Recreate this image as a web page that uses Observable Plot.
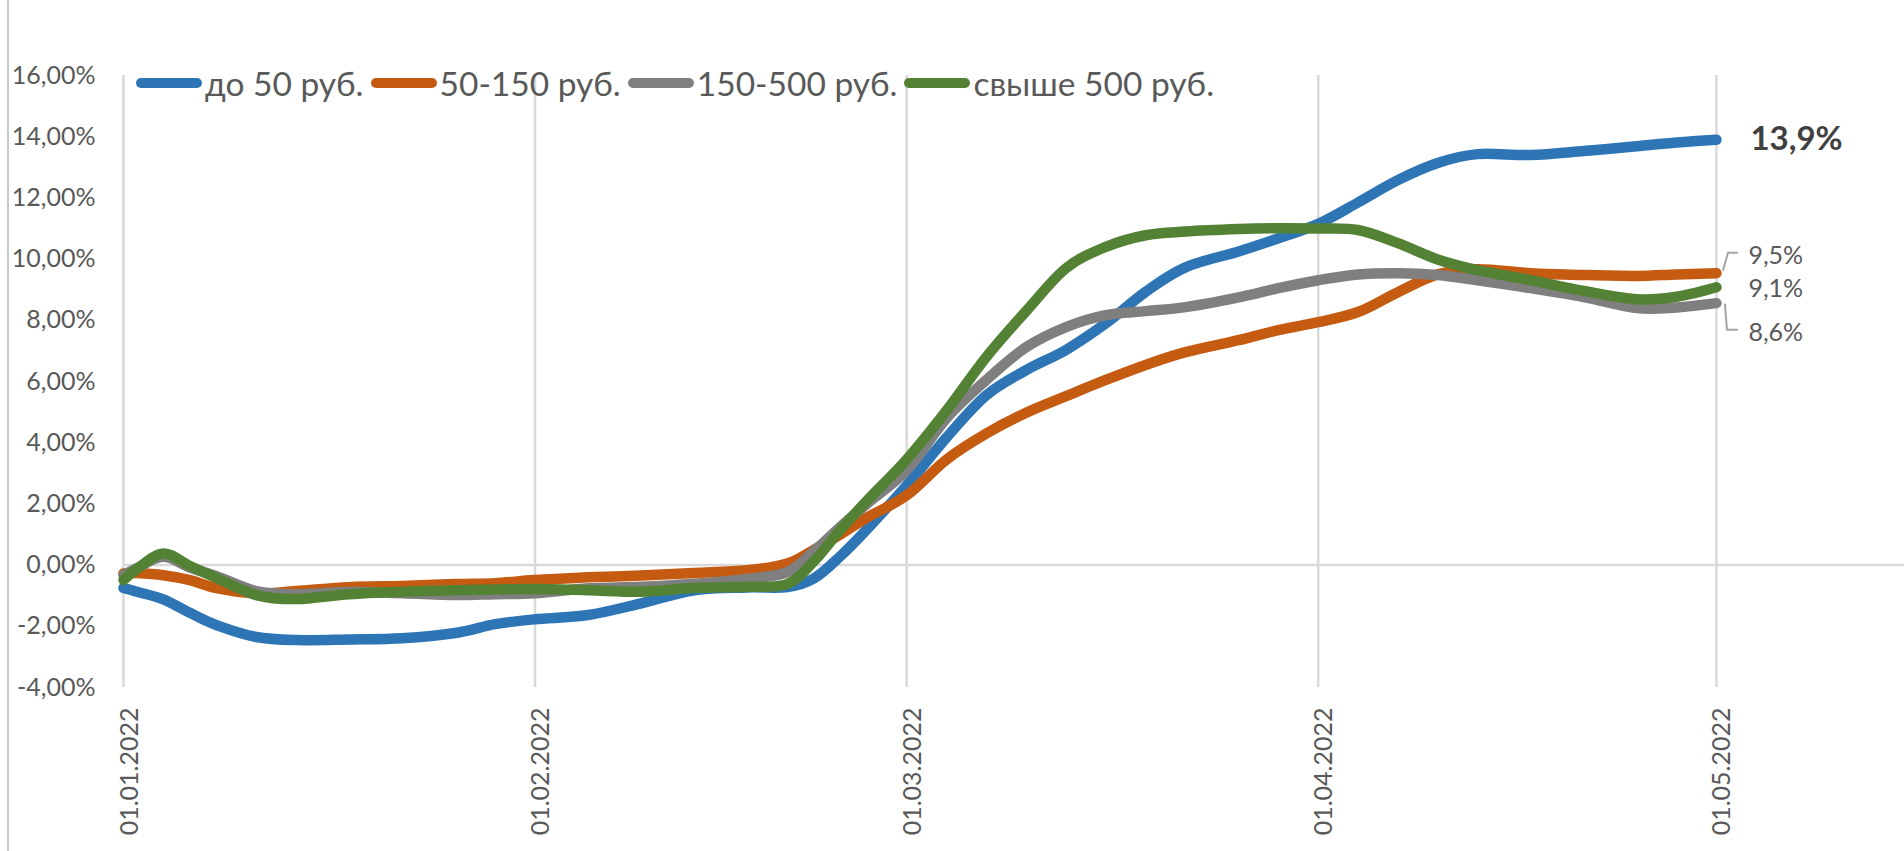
<!DOCTYPE html>
<html><head><meta charset="utf-8">
<script src="https://cdn.jsdelivr.net/npm/d3@7"></script>
<script src="https://cdn.jsdelivr.net/npm/@observablehq/plot@0.6"></script>
<style>
html,body{margin:0;padding:0;background:#fff;}
#wrap{position:relative;width:1904px;height:851px;overflow:hidden;font-family:Lato,sans-serif;}
#wrap svg{position:absolute;left:0;top:0;}
#border{position:absolute;left:7px;top:0;width:0;height:851px;border-left:2px solid #c8c8c8;z-index:2;}
#legend{position:absolute;left:136px;top:63px;height:40px;display:flex;align-items:center;font-size:33.5px;color:#595959;white-space:nowrap;z-index:3;}
.it{display:flex;align-items:center;margin-right:7px;}
.sw{display:inline-block;width:66px;height:10px;border-radius:5px;margin-right:3px;}
</style></head><body><div id="wrap"><div id="border"></div></div>
<script>
// ---- data ----
const seriesNames = ["до 50 руб.", "50-150 руб.", "150-500 руб.", "свыше 500 руб."];
const seriesColors = ["#2E75B6", "#C55A11", "#7F7F7F", "#548235"];
const dates = ["2022-01-01","2022-01-02","2022-01-04","2022-01-06","2022-01-08","2022-01-11","2022-01-14","2022-01-18","2022-01-22","2022-01-26",
  "2022-01-29","2022-02-01","2022-02-05","2022-02-09","2022-02-13","2022-02-17","2022-02-20","2022-02-22","2022-02-24","2022-02-26",
  "2022-03-01","2022-03-04","2022-03-07","2022-03-10","2022-03-13","2022-03-16","2022-03-19","2022-03-22","2022-03-26","2022-03-29",
  "2022-04-01","2022-04-04","2022-04-07","2022-04-10","2022-04-13","2022-04-17","2022-04-21","2022-04-25","2022-04-28","2022-05-01"];
const upTo50 = [-0.75,-0.87,-1.12,-1.56,-1.96,-2.35,-2.45,-2.43,-2.39,-2.22,
  -1.93,-1.77,-1.63,-1.25,-0.82,-0.73,-0.72,-0.44,0.29,1.17,
  2.6,4.17,5.55,6.37,7.03,7.9,8.93,9.73,10.25,10.68,
  11.15,11.85,12.58,13.14,13.43,13.4,13.53,13.69,13.81,13.9];
const from50to150 = [-0.27,-0.26,-0.33,-0.49,-0.75,-0.92,-0.85,-0.72,-0.68,-0.62,
  -0.59,-0.49,-0.4,-0.34,-0.26,-0.17,0.05,0.5,1.0,1.55,
  2.28,3.45,4.3,4.98,5.52,6.05,6.54,6.96,7.35,7.68,
  7.94,8.27,8.92,9.5,9.67,9.54,9.48,9.45,9.5,9.54];
const from150to500 = [-0.33,-0.1,0.27,-0.08,-0.36,-0.85,-0.95,-0.88,-0.92,-0.98,
  -0.95,-0.92,-0.76,-0.71,-0.61,-0.45,-0.23,0.45,1.25,2.0,
  3.1,4.8,6.05,7.12,7.78,8.17,8.3,8.43,8.75,9.05,
  9.31,9.5,9.54,9.48,9.31,9.05,8.76,8.4,8.42,8.56];
const over500 = [-0.49,-0.13,0.38,-0.03,-0.42,-0.98,-1.11,-0.95,-0.87,-0.82,
  -0.8,-0.78,-0.82,-0.87,-0.75,-0.71,-0.62,0.12,1.15,2.1,
  3.45,5.05,6.8,8.3,9.7,10.4,10.78,10.9,10.98,11.01,
  11.0,10.95,10.52,9.99,9.64,9.31,8.96,8.69,8.77,9.08];
const yTicks = [-4,-2,0,2,4,6,8,10,12,14,16];
const xTicks = ["2022-01-01","2022-02-01","2022-03-01","2022-04-01","2022-05-01"];
const endLabels = ["13,9%", "9,5%", "8,6%", "9,1%"];
const endLabelSeries = [0, 1, 2, 3];

// ---- build ----
const parse = d3.utcParse("%Y-%m-%d");
const seriesValues = [upTo50, from50to150, from150to500, over500];
const rows = [];
seriesNames.forEach((s, i) => dates.forEach((d, j) => rows.push({series: s, date: parse(d), value: seriesValues[i][j]})));
const lastDate = parse(dates[dates.length - 1]);

const fmtY = d => d.toFixed(2).replace(".", ",") + "%";
const fmtX = d3.utcFormat("%d.%m.%Y");

// label layout (pixel offsets from the line end)
const labelLayout = [
  {dx: 34, dy: 0, bold: true, size: 33, fill: "#404040"},
  {dx: 32, dy: -17, bold: false, size: 25, fill: "#595959"},
  {dx: 32, dy: 30, bold: false, size: 25, fill: "#595959"},
  {dx: 32, dy: 2, bold: false, size: 25, fill: "#595959"}
];
const leaderLayout = [
  {series: 1, pts: [[7,-2],[12,-20],[22,-20]]},
  {series: 2, pts: [[9,1],[11,27],[22,27]]}
];

const labelMarks = endLabels.map((t, k) => {
  const si = endLabelSeries[k];
  const L = labelLayout[k];
  return Plot.text([{date: lastDate, value: seriesValues[si][seriesValues[si].length - 1], t}], {
    x: "date", y: "value", text: "t", dx: L.dx, dy: L.dy, textAnchor: "start",
    fontSize: L.size, fontWeight: L.bold ? "bold" : "normal", fill: L.fill
  });
});

const leaderMark = (index, scales) => {
  const g = d3.create("svg:g");
  leaderLayout.forEach(l => {
    const vals = seriesValues[l.series];
    const x0 = scales.x(lastDate), y0 = scales.y(vals[vals.length - 1]);
    g.append("path")
      .attr("d", d3.line()(l.pts.map(([a, b]) => [x0 + a, y0 + b])))
      .attr("fill", "none").attr("stroke", "#a6a6a6").attr("stroke-width", 2);
  });
  return g.node();
};

const chart = Plot.plot({
  width: 1904, height: 851,
  marginTop: 75, marginBottom: 164, marginLeft: 123, marginRight: 0,
  style: {fontFamily: "Lato, sans-serif", background: "transparent"},
  x: {type: "utc", domain: [parse("2022-01-01"), new Date(Date.UTC(2022, 4, 15, 4))]},
  y: {domain: [-4, 16]},
  color: {domain: seriesNames, range: seriesColors},
  marks: [
    Plot.gridX(xTicks.map(parse), {stroke: "#d9d9d9", strokeOpacity: 1, strokeWidth: 2.5}),
    Plot.ruleY([0], {stroke: "#d9d9d9", strokeWidth: 2.5}),
    Plot.axisY(yTicks, {tickFormat: fmtY, tickSize: 0, tickPadding: 28, fontSize: 25, fill: "#595959", label: null}),
    Plot.axisX(xTicks.map(parse), {tickFormat: fmtX, tickRotate: -90, tickSize: 0, tickPadding: 20, fontSize: 25, fill: "#595959", dx: 6, label: null}),
    Plot.line(rows, {x: "date", y: "value", z: "series", stroke: "series", strokeWidth: 10.5,
      curve: d3.curveCatmullRom.alpha(0), strokeLinecap: "round", strokeLinejoin: "round"}),
    leaderMark,
    ...labelMarks
  ]
});

const wrap = document.getElementById("wrap");
wrap.appendChild(chart);

const legend = document.createElement("div");
legend.id = "legend";
seriesNames.forEach((s, i) => {
  const it = document.createElement("div");
  it.className = "it";
  const sw = document.createElement("span");
  sw.className = "sw";
  sw.style.background = seriesColors[i];
  const tx = document.createElement("span");
  tx.textContent = s;
  it.appendChild(sw); it.appendChild(tx);
  legend.appendChild(it);
});
wrap.appendChild(legend);
</script></body></html>
